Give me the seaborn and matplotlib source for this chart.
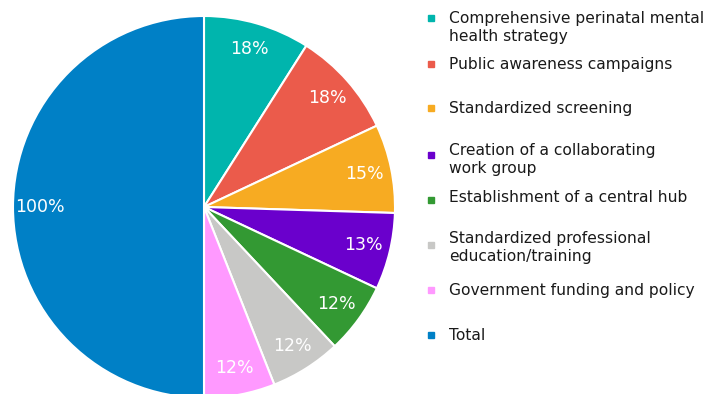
import matplotlib
matplotlib.use("Agg")
import matplotlib.pyplot as plt
import seaborn as sns

sns.set_theme(style="white")
plt.rcParams['font.family'] = ['DejaVu Sans']

categories = ["Comprehensive perinatal mental\nhealth strategy",
              "Public awareness campaigns",
              "Standardized screening",
              "Creation of a collaborating\nwork group",
              "Establishment of a central hub",
              "Standardized professional\neducation/training",
              "Government funding and policy",
              "Total"]
values = [18, 18, 15, 13, 12, 12, 12, 100]
labels = ["18%", "18%", "15%", "13%", "12%", "12%", "12%", "100%"]
colors = ["#00B5AD", "#EB5B4B", "#F7AB22", "#6A00CC", "#339933", "#C8C8C6", "#FF99FF", "#0080C6"]

W, H = 712, 394
fig = plt.figure(figsize=(W / 100, H / 100), dpi=100)
cx, cy, r = 204, 207, 191
ax = fig.add_axes([(cx - r) / W, (H - cy - r) / H, 2 * r / W, 2 * r / H])
wedges, texts = ax.pie(values, colors=colors, labels=labels, startangle=90, counterclock=False,
                       labeldistance=0.86, radius=1.0,
                       wedgeprops=dict(edgecolor="white", linewidth=1.5),
                       textprops=dict(color="white", fontsize=12.5))
for t in texts:
    t.set_ha("center")
    t.set_va("center")
ax.set_xlim(-1, 1)
ax.set_ylim(-1, 1)
ax.set_aspect("equal")

# legend drawn manually
marker_y = [18, 64, 108, 155, 200, 245, 290, 335]
text_y = [27, 64, 108, 160, 198, 247, 290, 335]
for cat, col, my, ty in zip(categories, colors, marker_y, text_y):
    fig.patches.append(plt.Rectangle(((431 - 3) / W, (H - my - 3) / H), 6 / W, 6 / H,
                                     transform=fig.transFigure, color=col, figure=fig))
    fig.text(449 / W, (H - ty) / H, cat, ha="left", va="center", fontsize=11.2,
             color="#1a1a1a", linespacing=1.25)

fig.savefig("out.png", dpi=100)
